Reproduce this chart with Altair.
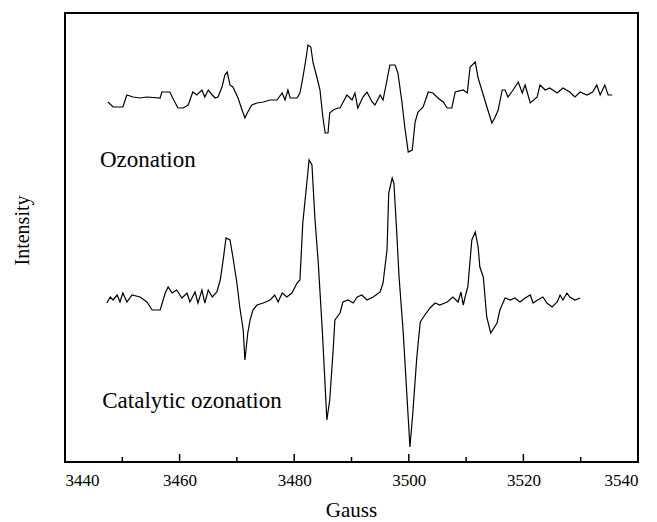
import altair as alt
import pandas as pd

# Ozonation trace (Gauss, intensity in arbitrary units)
ozo_g = [3447.5, 3448.4, 3450.1, 3450.8, 3451.9, 3453.1, 3454.3, 3456.6, 3456.9, 3458.3,
         3458.8, 3459.7, 3460.6, 3461.5, 3462.3, 3463.0, 3463.9, 3464.4, 3465.0, 3465.7,
         3466.2, 3466.7, 3467.4, 3467.9, 3468.3, 3468.8, 3469.3, 3470.2, 3470.9, 3471.4,
         3471.9, 3472.6, 3473.5, 3474.6, 3475.8, 3477.0, 3477.9, 3478.4, 3478.9, 3479.3,
         3480.5, 3481.0, 3481.5, 3482.1, 3482.4, 3482.9, 3483.3, 3484.0, 3484.5, 3485.0,
         3485.4, 3485.9, 3486.2, 3486.8, 3487.6, 3488.0, 3489.2, 3490.1, 3490.6, 3491.1,
         3492.0, 3492.7, 3493.6, 3494.1, 3495.0, 3495.5, 3496.2, 3496.7, 3497.6, 3498.1,
         3498.8, 3499.3, 3499.9, 3500.6, 3501.1, 3501.6, 3502.5, 3503.4, 3504.2, 3505.1,
         3506.0, 3506.7, 3507.5, 3508.1, 3509.5, 3510.2, 3510.7, 3511.6, 3512.1, 3513.0,
         3513.8, 3514.5, 3515.0, 3515.6, 3516.3, 3516.8, 3517.3, 3518.2, 3519.1, 3519.8,
         3520.3, 3521.2, 3522.4, 3522.9, 3523.8, 3524.6, 3525.9, 3526.9, 3528.1, 3529.0,
         3529.9, 3531.1, 3532.1, 3532.8, 3533.4, 3534.2, 3534.8, 3535.5]
ozo_i = [360, 355, 355, 367, 365, 364, 365, 364, 370, 370,
         364, 354, 354, 357, 370, 367, 372, 365, 372, 367,
         364, 365, 375, 387, 390, 377, 375, 364, 352, 344,
         350, 357, 359, 360, 362, 362, 369, 362, 372, 364,
         364, 369, 384, 405, 417, 415, 399, 384, 372, 345,
         329, 329, 349, 352, 354, 354, 367, 362, 369, 354,
         365, 370, 360, 357, 367, 362, 382, 397, 397, 389,
         360, 335, 310, 312, 340, 350, 355, 370, 369, 364,
         360, 354, 354, 370, 372, 369, 395, 400, 384, 367,
         352, 339, 344, 352, 372, 372, 365, 372, 380, 369,
         377, 359, 365, 377, 372, 374, 369, 374, 370, 365,
         370, 367, 370, 377, 367, 377, 367, 367]

# Catalytic ozonation trace
cat_g = [3447.3, 3447.9, 3448.4, 3449.1, 3449.6, 3450.1, 3450.8, 3451.7, 3453.1, 3454.3,
         3455.2, 3456.6, 3457.5, 3458.0, 3458.7, 3459.5, 3460.4, 3461.3, 3461.8, 3462.7,
         3463.2, 3463.9, 3464.4, 3465.0, 3465.7, 3466.5, 3467.1, 3467.6, 3468.1, 3468.8,
         3469.3, 3470.0, 3470.5, 3471.1, 3471.4, 3471.9, 3472.3, 3472.8, 3473.5, 3474.6,
         3475.8, 3476.6, 3477.2, 3477.9, 3478.7, 3479.6, 3480.5, 3481.0, 3481.5, 3482.2,
         3482.6, 3483.1, 3483.6, 3484.2, 3484.9, 3485.7, 3486.2, 3486.8, 3487.1, 3488.0,
         3488.5, 3489.4, 3490.3, 3491.0, 3491.8, 3492.7, 3493.8, 3495.0, 3495.5, 3496.2,
         3496.5, 3497.1, 3497.4, 3497.9, 3498.3, 3499.0, 3500.2, 3500.7, 3501.4, 3502.0,
         3502.8, 3503.7, 3504.6, 3505.4, 3506.7, 3507.7, 3508.6, 3509.1, 3509.5, 3510.0,
         3510.3, 3511.0, 3511.6, 3512.1, 3512.4, 3513.0, 3513.6, 3514.3, 3515.4, 3515.9,
         3516.8, 3517.7, 3518.5, 3519.4, 3520.3, 3521.2, 3521.7, 3522.5, 3523.4, 3524.1,
         3525.0, 3525.9, 3526.4, 3526.9, 3527.6, 3528.1, 3529.0, 3529.9]
cat_i = [159, 165, 162, 167, 160, 169, 160, 167, 165, 160,
         152, 152, 169, 175, 169, 172, 164, 169, 160, 170,
         159, 172, 159, 172, 165, 170, 182, 202, 224, 222,
         205, 179, 155, 132, 102, 129, 142, 152, 157, 159,
         162, 167, 160, 169, 165, 169, 179, 182, 239, 279,
         302, 297, 245, 199, 132, 42, 62, 112, 142, 149,
         160, 162, 159, 165, 167, 162, 165, 170, 179, 212,
         269, 284, 279, 229, 185, 132, 15, 49, 105, 140,
         147, 154, 159, 157, 160, 165, 160, 170, 157, 169,
         175, 222, 230, 215, 195, 185, 145, 129, 139, 152,
         164, 162, 164, 160, 164, 167, 159, 162, 165, 159,
         155, 160, 167, 162, 169, 165, 162, 164]

label_text = ["Ozonation", "Catalytic ozonation"]
label_g = [3446.1, 3446.5]
label_i = [295, 54]

major_ticks = [3440, 3460, 3480, 3500, 3520, 3540]
inner_major = [3460, 3480, 3500, 3520]
inner_minor = [3450, 3470, 3490, 3510, 3530]

df = pd.concat([
    pd.DataFrame({"g": ozo_g, "i": ozo_i, "s": "Ozonation", "o": range(len(ozo_g))}),
    pd.DataFrame({"g": cat_g, "i": cat_i, "s": "Catalytic ozonation", "o": range(len(cat_g))}),
])
lab = pd.DataFrame({"t": label_text, "g": label_g, "i": label_i})
tmaj = pd.DataFrame({"g": inner_major})
tmin = pd.DataFrame({"g": inner_minor})

FONT = "Liberation Serif"
xs = alt.Scale(domain=[3440, 3540], nice=False, zero=False)
ys = alt.Scale(domain=[0, 449], nice=False, zero=False)

lines = alt.Chart(df).mark_line(color="black", strokeWidth=1.2, interpolate="linear").encode(
    x=alt.X("g:Q", scale=xs, title="Gauss",
            axis=alt.Axis(values=major_ticks, format="d", ticks=False, domain=False, grid=False,
                          labelFont=FONT, labelFontSize=17, labelColor="black",
                          labelBaseline="middle", labelPadding=18,
                          titleFont=FONT, titleFontSize=21, titleFontWeight="normal",
                          titleColor="black", titleX=286, titleY=48, titleBaseline="middle")),
    y=alt.Y("i:Q", scale=ys, title="Intensity",
            axis=alt.Axis(labels=False, ticks=False, domain=False, grid=False,
                          titleFont=FONT, titleFontSize=20, titleFontWeight="normal",
                          titleColor="black", titleX=-43, titleY=217, titleBaseline="middle")),
    detail="s:N",
    order="o:Q",
)

texts = alt.Chart(lab).mark_text(font=FONT, fontSize=23, align="left", baseline="alphabetic",
                                 color="black").encode(
    x=alt.X("g:Q", scale=xs), y=alt.Y("i:Q", scale=ys), text="t:N")

maj = alt.Chart(tmaj).mark_rule(color="black", strokeWidth=1.5).encode(
    x=alt.X("g:Q", scale=xs), y=alt.value(449), y2=alt.value(441))
mnr = alt.Chart(tmin).mark_rule(color="black", strokeWidth=1.5).encode(
    x=alt.X("g:Q", scale=xs), y=alt.value(449), y2=alt.value(444))

chart = alt.layer(lines, maj, mnr, texts).properties(
    width=573, height=449,
    autosize=alt.AutoSizeParams(type="none"),
    padding={"left": 65, "top": 13, "right": 19, "bottom": 60},
    background="white",
).configure_view(stroke="black", strokeWidth=2).configure_text(font=FONT)

chart.save("out.html", embed_options={"renderer": "svg", "actions": False})
